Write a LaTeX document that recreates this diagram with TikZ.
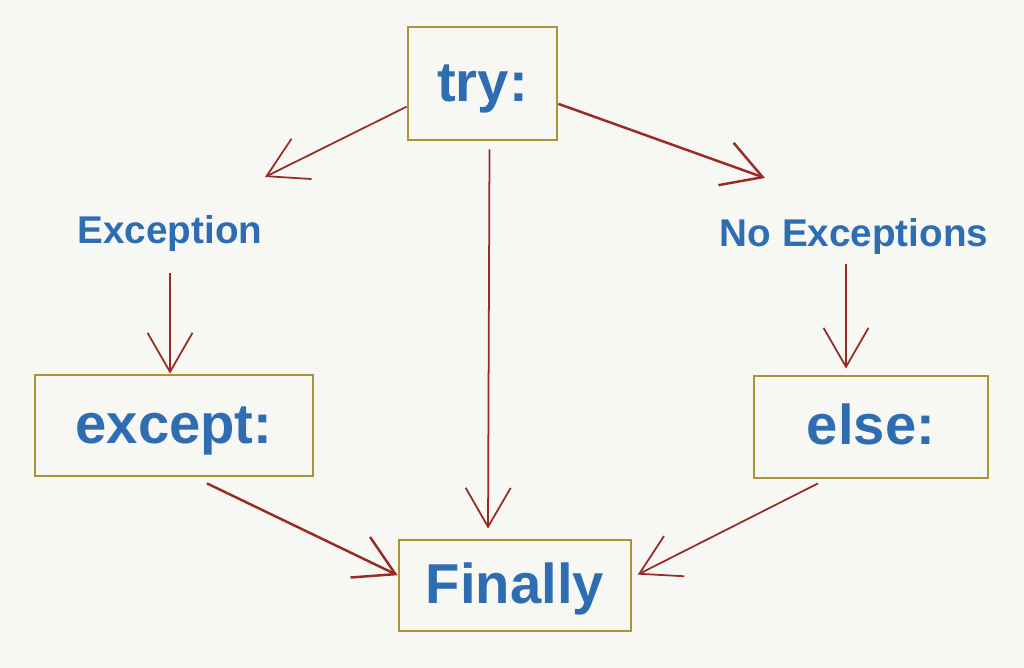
\documentclass[tikz,border=0pt]{standalone}
\usepackage{fontspec}
\setmainfont{Liberation Sans}
\usetikzlibrary{arrows.meta,calc}
\definecolor{paper}{HTML}{F7F7F3}
\definecolor{boxgold}{HTML}{A8953A}
\definecolor{textblue}{HTML}{2F6DB2}
\definecolor{arrowred}{HTML}{992B24}
\tikzset{
  block/.style={draw=boxgold,line width=1.6pt,text=textblue,inner sep=0pt,
    text height=24pt,text depth=4pt,
    font=\fontsize{32}{36}\selectfont\bfseries},
  tag/.style={text=textblue,font=\fontsize{22}{26}\selectfont\bfseries},
  flow/.style={draw=arrowred,line width=1pt,-{Straight Barb[length=0.78cm,width=0.9cm]}}
}
\begin{document}
\begin{tikzpicture}[x=0.02cm,y=-0.02cm]
  \fill[paper] (0,0) rectangle (1024,668);
  \useasboundingbox (0,0) rectangle (1024,668);
  \node[block,minimum width=2.98cm,minimum height=2.26cm] (try) at (482.5,83.5) {try:};
  \node[block,minimum width=5.56cm,minimum height=2.02cm] (except) at (174,425.5) {except:};
  \node[block,minimum width=4.68cm,minimum height=2.04cm] (else) at (871,427) {else:};
  \node[block,minimum width=4.64cm,minimum height=1.82cm] (fin) at (515,585.5) {Finally};
  \node[tag] (exc) at (170,234) {Exception};
  \node[tag] (noexc) at (854,237) {No Exceptions};
  \coordinate (exctip) at (265,177);
  \coordinate (noexctip) at (765,178);
  \coordinate (noexcfoot) at ($(noexc.south)+(-8,0)$);
  % out of try:
  \draw[flow] (try.197) -- (exctip);
  \draw[flow,line width=1.4pt] (try.-15) -- (noexctip);
  \draw[flow] ($(try.south)+(7,8)$) -- ($(fin.north)+(-27,-10)$);
  % into except: and else:
  \draw[flow,shorten <=0.3cm] (exc.south) -- (exc.south |- except.north);
  \draw[flow,shorten <=0.05cm,shorten >=0.12cm] (noexcfoot) -- (noexcfoot |- else.north);
  % into Finally
  \draw[flow,line width=1.4pt] ($(except.south)+(33,6)$) -- (fin.175);
  \draw[flow,shorten >=0.12cm] ($(else.south)+(-53,4)$) -- (fin.4);
\end{tikzpicture}
\end{document}
